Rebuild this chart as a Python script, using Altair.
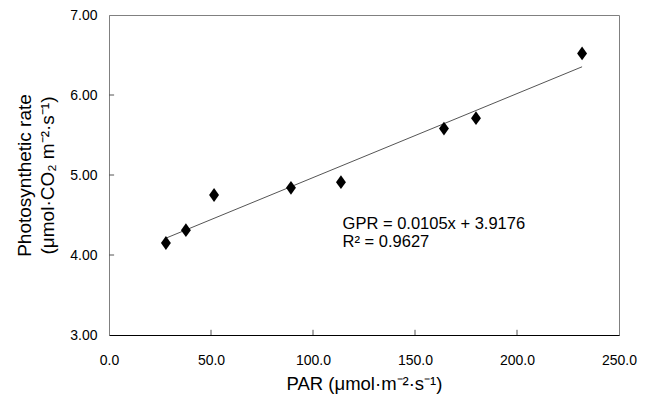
import altair as alt
import pandas as pd

par = [27.9, 37.7, 51.5, 89.2, 113.7, 164.2, 179.9, 231.9]
gpr = [4.15, 4.31, 4.75, 4.84, 4.91, 5.58, 5.71, 6.52]
slope = 0.0105
intercept = 3.9176
x_ticks = [0, 50, 100, 150, 200, 250]
y_ticks = [3, 4, 5, 6, 7]
eq_lines = ["GPR = 0.0105x + 3.9176", "R² = 0.9627"]

FONT = "Liberation Sans"
pts = pd.DataFrame({"x": par, "y": gpr})
fit = pd.DataFrame({"x": [min(par), max(par)]})
fit["y"] = intercept + slope * fit["x"]

xs = alt.Scale(domain=[0, 250], nice=False, zero=False)
ys = alt.Scale(domain=[3, 7], nice=False, zero=False)

xaxis = alt.Axis(values=x_ticks, format=".1f", title="PAR (μmol·m⁻²·s⁻¹)",
                 ticks=False, grid=False, domainColor="#000000", labelPadding=18,
                 labelFlush=False, labelOverlap=False,
                 labelFont=FONT, labelFontSize=14, labelColor="#000",
                 titleFont=FONT, titleFontSize=18.5, titleFontWeight="normal",
                 titleColor="#000", titlePadding=7)
yaxis = alt.Axis(values=y_ticks, format=".2f",
                 title=["Photosynthetic rate", "(μmol·CO₂ m⁻²·s⁻¹)"],
                 ticks=False, grid=False, domainColor="#808080", labelPadding=12,
                 labelFlush=False, labelOverlap=False,
                 labelFont=FONT, labelFontSize=14, labelColor="#000",
                 titleFont=FONT, titleFontSize=19, titleFontWeight="normal",
                 titleColor="#000", titlePadding=12, titleLineHeight=23)

line = alt.Chart(fit).mark_line(color="#555555", strokeWidth=1).encode(
    x=alt.X("x:Q", scale=xs, axis=xaxis),
    y=alt.Y("y:Q", scale=ys, axis=yaxis),
)

diamond = "M0,-1L0.72,0L0,1L-0.72,0Z"
points = alt.Chart(pts).mark_point(shape=diamond, filled=True, color="#000000",
                                   size=190, opacity=1).encode(
    x=alt.X("x:Q", scale=xs), y=alt.Y("y:Q", scale=ys))

xt = pd.DataFrame({"x": x_ticks[1:-1], "y": [3] * 4, "y2": [3.065] * 4})
xtick = alt.Chart(xt).mark_rule(color="#555", strokeWidth=1).encode(
    x=alt.X("x:Q", scale=xs), y=alt.Y("y:Q", scale=ys), y2="y2:Q")
yt = pd.DataFrame({"y": y_ticks[1:-1], "x": [0] * 3, "x2": [2.5] * 3})
ytick = alt.Chart(yt).mark_rule(color="#555", strokeWidth=1).encode(
    y=alt.Y("y:Q", scale=ys), x=alt.X("x:Q", scale=xs), x2="x2:Q")

txt = pd.DataFrame({"x": [114.5, 114.5], "y": [4.39, 4.16], "t": eq_lines})
text = alt.Chart(txt).mark_text(align="left", baseline="middle", font=FONT,
                                fontSize=16.5, color="#000").encode(
    x=alt.X("x:Q", scale=xs), y=alt.Y("y:Q", scale=ys), text="t:N")

chart = alt.layer(line, xtick, ytick, points, text).properties(
    width=510, height=320,
    autosize=alt.AutoSizeParams(type="none"),
    padding={"left": 101, "top": 7, "right": 20, "bottom": 60},
).configure_view(stroke="#808080", strokeWidth=1)

chart.save("out.html", embed_options={"renderer": "svg", "actions": False})
